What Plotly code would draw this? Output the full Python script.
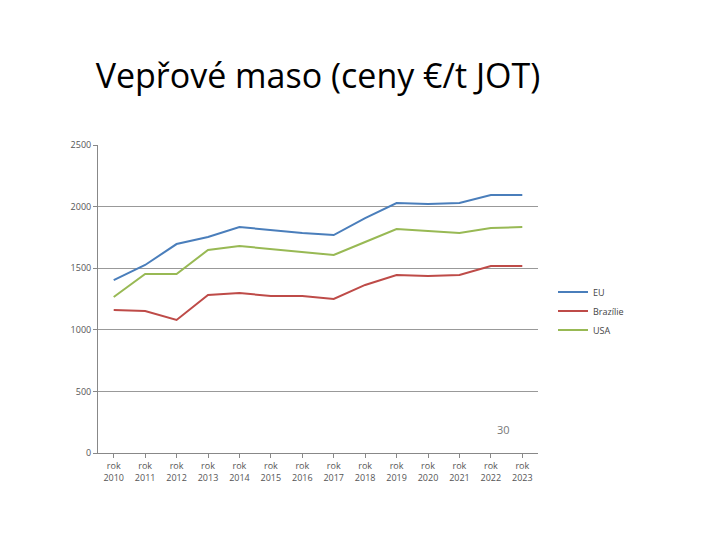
import plotly.graph_objects as go

years = ["rok<br>%d" % y for y in range(2010, 2024)]
eu = [1404, 1526, 1696, 1753, 1834, 1810, 1786, 1769, 1907, 2029, 2021, 2029, 2094, 2094]
brazil = [1161, 1153, 1080, 1282, 1299, 1274, 1274, 1250, 1364, 1445, 1437, 1445, 1518, 1518]
usa = [1266, 1453, 1453, 1648, 1680, 1656, 1631, 1607, 1713, 1818, 1802, 1786, 1826, 1834]

fig = go.Figure()
for name, vals, col in [("EU", eu, "#4A7EBB"), ("Brazílie", brazil, "#BE4B48"), ("USA", usa, "#98B954")]:
    fig.add_trace(go.Scatter(x=years, y=vals, name=name, mode="lines", line=dict(color=col, width=2)))

fig.update_layout(
    width=720, height=540, paper_bgcolor="white", plot_bgcolor="white",
    margin=dict(l=90, r=190, t=137, b=95, autoexpand=False),
    title=dict(text="Vepřové maso (ceny €/t JOT)", x=0.5, xref="paper", xanchor="center",
               y=(540-68)/540, yref="container", yanchor="middle",
               font=dict(family="Open Sans, Liberation Sans", size=34, color="black")),
    showlegend=True,
    legend=dict(x=545/720, y=(540-303)/540, xref="container", yref="container",
                xanchor="left", yanchor="middle", font=dict(size=9, color="#444"),
                bgcolor="rgba(0,0,0,0)", tracegroupgap=0, itemwidth=30),
    xaxis=dict(range=[-0.5, 13.5], showgrid=False, showline=True, linecolor="#888",
               ticks="outside", tickcolor="#888", ticklen=4, tickfont=dict(size=9, color="#555")),
    yaxis=dict(range=[0, 2500], dtick=500,
               gridcolor="#999", showline=True, linecolor="#888", tickfont=dict(size=9, color="#555"),
               ticks="outside", tickcolor="#888", ticklen=4),
)
fig.add_annotation(text="30", x=677/720, y=(540-515)/540, xref="paper", yref="paper", showarrow=False,
                   font=dict(size=11, color="#777"), xanchor="right")
fig.write_html("out.html")
